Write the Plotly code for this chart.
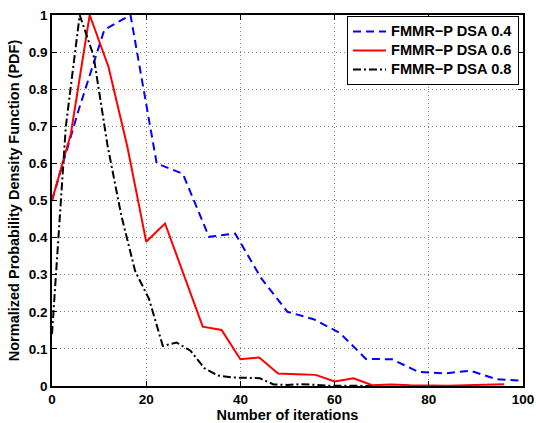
import plotly.graph_objects as go

# Blue series: 19 points evenly spaced over 0..100
blue_x = [i * 100 / 18 for i in range(19)]
blue_y = [0.50, 0.74, 0.96, 1.00, 0.600, 0.572, 0.402, 0.411, 0.290, 0.200,
          0.180, 0.143, 0.073, 0.072, 0.038, 0.034, 0.041, 0.018, 0.014]

# Red series: step 4 from 0 to 96
red_x = [4 * i for i in range(25)]
red_y = [0.50, 0.68, 1.00, 0.86, 0.645, 0.389, 0.438, 0.300, 0.160, 0.151,
         0.072, 0.077, 0.034, 0.032, 0.030, 0.012, 0.021, 0.002, 0.004, 0.002,
         0.001, 0.001, 0.002, 0.003, 0.005]

# Black series: spacing 100/34
black_x = [i * 100 / 34 for i in range(24)]
black_y = [0.14, 0.70, 1.00, 0.89, 0.65, 0.46, 0.31, 0.235, 0.108, 0.117,
           0.095, 0.048, 0.028, 0.023, 0.022, 0.021, 0.004, 0.003, 0.005, 0.002,
           0.001, 0.001, 0.0, 0.0]

names = ["FMMR\u2212P DSA 0.4", "FMMR\u2212P DSA 0.6", "FMMR\u2212P DSA 0.8"]
x_ticks = [0, 20, 40, 60, 80, 100]
y_ticks = [0, 0.1, 0.2, 0.3, 0.4, 0.5, 0.6, 0.7, 0.8, 0.9, 1]
y_labels = ["0", "0.1", "0.2", "0.3", "0.4", "0.5", "0.6", "0.7", "0.8", "0.9", "1"]


def legend_label(s):
    return '<span style="font-size:14.6px">' + s + '</span>'


fig = go.Figure()
fig.add_trace(go.Scatter(x=blue_x, y=blue_y, mode="lines", name=legend_label(names[0]),
                         line=dict(color="#0000ff", width=2, dash="8px,5px")))
fig.add_trace(go.Scatter(x=red_x, y=red_y, mode="lines", name=legend_label(names[1]),
                         line=dict(color="#ff0000", width=2)))
fig.add_trace(go.Scatter(x=black_x, y=black_y, mode="lines", name=legend_label(names[2]),
                         line=dict(color="#000000", width=2, dash="8px,3px,2px,3px")))

font_family = "Liberation Sans, Arial, sans-serif"
axis_common = dict(
    showline=True, linecolor="black", linewidth=1.5, mirror="allticks",
    ticks="inside", ticklen=5, tickcolor="black", tickwidth=1,
    showgrid=True, gridcolor="#808080", gridwidth=1, griddash="1px,3px",
    zeroline=False, automargin=False,
    tickfont=dict(family=font_family, size=13.5, color="black", weight="bold"),
)

fig.update_layout(
    width=536, height=423,
    margin=dict(l=52, r=13, t=15, b=37),
    paper_bgcolor="white", plot_bgcolor="white",
    font=dict(family=font_family, color="black"),
    xaxis=dict(range=[0, 100], tickvals=x_ticks, ticktext=[str(v) for v in x_ticks],
               title=dict(text="Number of iterations", standoff=2,
                          font=dict(family=font_family, size=14.5, color="black", weight="bold")),
               **axis_common),
    yaxis=dict(range=[0, 1], tickvals=y_ticks, ticktext=y_labels,
               title=dict(text="Normalized Probability Density Function (PDF)", standoff=6,
                          font=dict(family=font_family, size=14.5, color="black", weight="bold")),
               **axis_common),
    legend=dict(x=0.9915, y=0.997, xanchor="right", yanchor="top",
                bgcolor="white", bordercolor="black", borderwidth=1,
                font=dict(family=font_family, size=10.5, color="black", weight="bold"),
                itemwidth=33, tracegroupgap=0),
    showlegend=True,
)

fig.write_html("out.html", config={"displayModeBar": False},
               post_script="document.body.style.margin='0';")
